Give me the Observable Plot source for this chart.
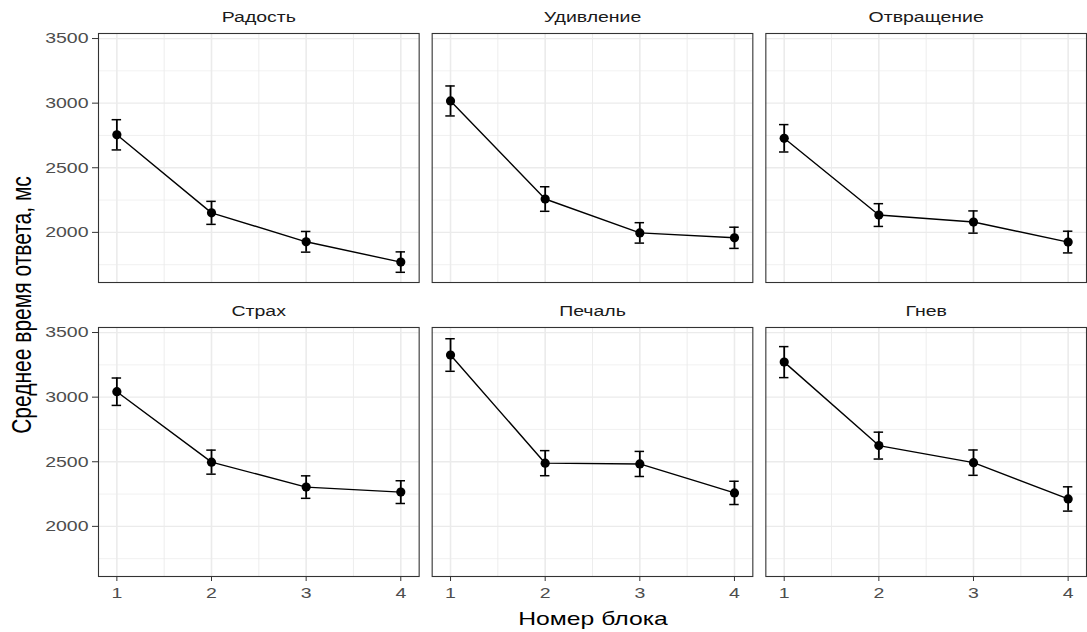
<!DOCTYPE html>
<html><head><meta charset="utf-8">
<script src="https://cdn.jsdelivr.net/npm/d3@7"></script>
<script src="https://cdn.jsdelivr.net/npm/@observablehq/plot@0.6"></script>
<style>
body{margin:0;background:#fff;}
#wrap{position:relative;width:1087px;height:632px;font-family:"Liberation Sans",Arial,sans-serif;overflow:hidden;}
#wrap svg{position:absolute;left:0;top:0;}
.atitle{position:absolute;white-space:nowrap;color:#000;line-height:1;}
</style></head><body><div id="wrap"></div>
<script>
// ---- data ----
const emotions = ["Радость","Удивление","Отвращение","Страх","Печаль","Гнев"];
const blocks = [1, 2, 3, 4];
const meanJoy      = [2755, 2151, 1927, 1770];
const seJoy        = [117, 89, 80, 79];
const meanSurprise = [3017, 2258, 1996, 1958];
const seSurprise   = [116, 95, 79, 82];
const meanDisgust  = [2728, 2134, 2080, 1925];
const seDisgust    = [106, 88, 86, 84];
const meanFear     = [3042, 2497, 2304, 2265];
const seFear       = [106, 93, 87, 88];
const meanSadness  = [3326, 2489, 2483, 2259];
const seSadness    = [126, 97, 97, 90];
const meanAnger    = [3271, 2625, 2493, 2212];
const seAnger      = [120, 104, 98, 94];
const yTicks = [2000, 2500, 3000, 3500];
const yMinor = [1750, 2250, 2750, 3250];
const xMinor = [1.5, 2.5, 3.5];
const xTitle = "Номер блока";
const yTitle = "Среднее время ответа, мс";

// ---- table ----
const meanList = [meanJoy, meanSurprise, meanDisgust, meanFear, meanSadness, meanAnger];
const seList = [seJoy, seSurprise, seDisgust, seFear, seSadness, seAnger];
const rows = emotions.flatMap((e, i) => blocks.map((b, j) => ({
  emotion: e, col: i % 3, row: Math.floor(i / 3), block: b,
  mean: meanList[i][j], lo: meanList[i][j] - seList[i][j], hi: meanList[i][j] + seList[i][j]
})));
const strips = emotions.map((e, i) => ({emotion: e, col: i % 3, row: Math.floor(i / 3)}));
const cap = 0.05;
const F = {fx: "col", fy: "row"};

const plot = Plot.plot({
  width: 1087, height: 632,
  marginLeft: 98, marginRight: 1, marginTop: 33, marginBottom: 56,
  style: {fontFamily: '"Liberation Sans", Arial, sans-serif', fontSize: "15px", color: "#4d4d4d", background: "white"},
  x: {domain: [0.806, 4.194], label: null},
  y: {domain: [1612, 3539], label: null},
  fx: {domain: [0, 1, 2], axis: null, paddingInner: 0.039, paddingOuter: 0, round: false},
  fy: {domain: [0, 1], axis: null, paddingInner: 0.153, paddingOuter: 0, round: false},
  marks: [
    Plot.gridY(yMinor, {stroke: "#ebebeb", strokeOpacity: 1, strokeWidth: 0.7}),
    Plot.gridX(xMinor, {stroke: "#ebebeb", strokeOpacity: 1, strokeWidth: 0.9}),
    Plot.gridY(yTicks, {stroke: "#ebebeb", strokeOpacity: 1, strokeWidth: 1.3}),
    Plot.gridX(blocks, {stroke: "#ebebeb", strokeOpacity: 1, strokeWidth: 1.6}),
    Plot.line(rows, {...F, x: "block", y: "mean", z: "emotion", stroke: "black", strokeWidth: 1.4}),
    Plot.ruleX(rows, {...F, x: "block", y1: "lo", y2: "hi", stroke: "black", strokeWidth: 1.8}),
    Plot.ruleY(rows, {...F, y: "lo", x1: d => d.block - cap, x2: d => d.block + cap, stroke: "black", strokeWidth: 1.5}),
    Plot.ruleY(rows, {...F, y: "hi", x1: d => d.block - cap, x2: d => d.block + cap, stroke: "black", strokeWidth: 1.5}),
    Plot.dot(rows, {...F, x: "block", y: "mean", r: 4.6, fill: "black", stroke: "none"}),
    Plot.text(strips, {...F, text: "emotion", frameAnchor: "top", lineAnchor: "middle", dy: -16, fontSize: 15, fill: "#1a1a1a"}),
    Plot.axisY(yTicks, {facetAnchor: "left", tickSize: 6, tickPadding: 4, stroke: "#333", fill: "#4d4d4d", label: null, tickFormat: d => String(d)}),
    Plot.axisX(blocks, {facetAnchor: "bottom", tickSize: 5, tickPadding: 6, stroke: "#333", fill: "#4d4d4d", label: null, tickFormat: d => String(d)}),
    Plot.frame({stroke: "#333", strokeWidth: 1.1})
  ]
});

const wrap = document.getElementById("wrap");
wrap.appendChild(plot);

// stretch text horizontally about its anchor point (as in the reference)
const SX = 1.3;
plot.querySelectorAll("text").forEach(t => {
  const b = t.getBBox();
  const anchor = getComputedStyle(t).textAnchor;
  const ax = anchor === "end" ? b.x + b.width : anchor === "middle" ? b.x + b.width / 2 : b.x;
  const tr = t.getAttribute("transform") || "";
  t.setAttribute("transform", `${tr} translate(${ax},0) scale(${SX},1) translate(${-ax},0)`);
});

const xt = document.createElement("div");
xt.className = "atitle";
xt.textContent = xTitle;
xt.style.fontSize = "19px";
xt.style.left = "593px"; xt.style.top = "618px";
xt.style.transform = `translate(-50%,-50%) scaleX(${SX})`;
wrap.appendChild(xt);

const yt = document.createElement("div");
yt.className = "atitle";
yt.textContent = yTitle;
yt.style.fontSize = "21px";
yt.style.left = "21px"; yt.style.top = "305px";
yt.style.transform = `translate(-50%,-50%) scaleX(${SX}) rotate(-90deg)`;
wrap.appendChild(yt);
</script>
</body></html>
